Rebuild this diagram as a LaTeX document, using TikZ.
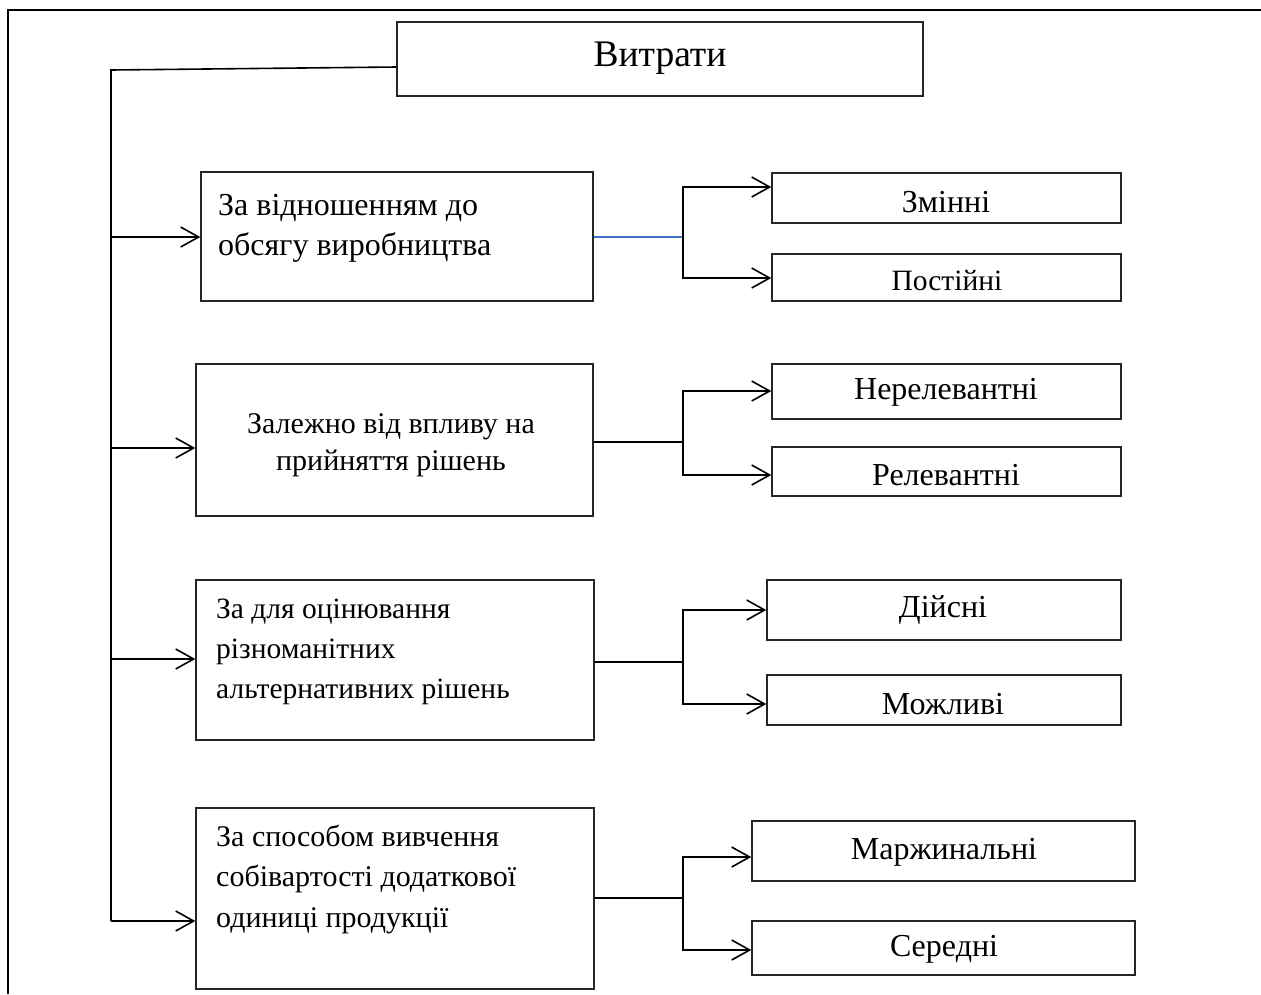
\documentclass[tikz,border=0pt]{standalone}
\usepackage{fontspec}
\setmainfont{Liberation Serif}
\usetikzlibrary{arrows.meta}
\definecolor{lineblue}{RGB}{68,114,196}
\tikzset{
  box/.style={draw=black!85, line width=1.4pt, inner sep=0pt},
  conn/.style={draw=black, line width=1.6pt},
  tip/.tip={Straight Barb[length=18pt,width=20pt,line width=1.6pt]},
  arr/.style={conn, -tip},
  darr/.style={conn, tip-tip},
  bline/.style={draw=lineblue, line width=1.5pt},
  ttl/.style={font=\fontsize{37.5}{42}\selectfont},
  cat/.style={inner sep=0pt},
  rt/.style={font=\fontsize{32}{36}\selectfont, inner sep=0pt},
}
\begin{document}
\begin{tikzpicture}[x=1pt,y=-1pt]
\useasboundingbox (0,0) rectangle (1261,994);
% outer frame
\draw[line width=2pt] (8,994) -- (8,10) -- (1261,10);
% top
\node[box, minimum width=526pt, minimum height=74pt] (top) at (660,59) {};
\node[ttl] (topt) at (660,58) {Витрати};
% categories
\node[box, minimum width=392pt, minimum height=129pt] (c1) at (397,236.5) {};
\node[box, minimum width=397pt, minimum height=152pt] (c2) at (394.5,440) {};
\node[box, minimum width=398pt, minimum height=160pt] (c3) at (395,660) {};
\node[box, minimum width=398pt, minimum height=181pt] (c4) at (395,898.5) {};
\node[cat, anchor=west, align=left, font=\fontsize{32}{40}\selectfont] (c1t) at (218,228) {За відношенням до\\обсягу виробництва};
\node[cat, align=center, font=\fontsize{30}{37}\selectfont] (c2t) at (391,445) {Залежно від впливу на\\прийняття рішень};
\node[cat, anchor=west, align=left, font=\fontsize{29.5}{40}\selectfont] (c3t) at (216,652) {За для оцінювання\\різноманітних\\альтернативних рішень};
\node[cat, anchor=west, align=left, font=\fontsize{30}{40.5}\selectfont] (c4t) at (216,879) {За способом вивчення\\собівартості додаткової\\одиниці продукції};
% right boxes
\node[box, minimum width=349pt, minimum height=50pt] (r1) at (946.5,198) {};
\node[box, minimum width=349pt, minimum height=47pt] (r2) at (946.5,277.5) {};
\node[box, minimum width=349pt, minimum height=55pt] (r3) at (946.5,391.5) {};
\node[box, minimum width=349pt, minimum height=49pt] (r4) at (946.5,471.5) {};
\node[box, minimum width=354pt, minimum height=60pt] (r5) at (944,610) {};
\node[box, minimum width=354pt, minimum height=50pt] (r6) at (944,700) {};
\node[box, minimum width=383pt, minimum height=60pt] (r7) at (943.5,851) {};
\node[box, minimum width=383pt, minimum height=54pt] (r8) at (943.5,948) {};
\node[rt] (r1t) at (946,202) {Змінні};
\node[rt, font=\fontsize{29.5}{34}\selectfont] (r2t) at (947,281) {Постійні};
\node[rt] (r3t) at (946,392) {Нерелевантні};
\node[rt] (r4t) at (946,475) {Релевантні};
\node[rt] (r5t) at (943,610) {Дійсні};
\node[rt] (r6t) at (943,704) {Можливі};
\node[rt] (r7t) at (944,852) {Маржинальні};
\node[rt] (r8t) at (944,949) {Середні};
% trunk
\coordinate (tt) at (111,70);
\coordinate (tb) at (111,921);
\coordinate (t1) at (111,237);
\coordinate (t2) at (111,448);
\coordinate (t3) at (111,659);
\draw[conn] (top.west |- 0,67) -- (tt) -- (tb);
\draw[arr] (t1) -- (t1 -| c1.west);
\draw[arr] (t2) -- (t2 -| c2.west);
\draw[arr] (t3) -- (t3 -| c3.west);
\draw[arr] (tb) -- (tb -| c4.west);
% branches
\coordinate (b1) at (683,237);
\coordinate (b1a) at (683,187);
\coordinate (b1b) at (683,278);
\draw[bline] (c1.east |- b1) -- (b1);
\draw[darr] (b1a -| r1.west) -- (b1a) -- (b1b) -- (b1b -| r2.west);
\coordinate (b2) at (683,442);
\coordinate (b2a) at (683,391);
\coordinate (b2b) at (683,475);
\draw[conn] (c2.east |- b2) -- (b2);
\draw[darr] (b2a -| r3.west) -- (b2a) -- (b2b) -- (b2b -| r4.west);
\coordinate (b3) at (683,662);
\coordinate (b3a) at (683,610);
\coordinate (b3b) at (683,704);
\draw[conn] (c3.east |- b3) -- (b3);
\draw[darr] (b3a -| r5.west) -- (b3a) -- (b3b) -- (b3b -| r6.west);
\coordinate (b4) at (683,898);
\coordinate (b4a) at (683,857);
\coordinate (b4b) at (683,950);
\draw[conn] (c4.east |- b4) -- (b4);
\draw[darr] (b4a -| r7.west) -- (b4a) -- (b4b) -- (b4b -| r8.west);
\end{tikzpicture}
\end{document}
